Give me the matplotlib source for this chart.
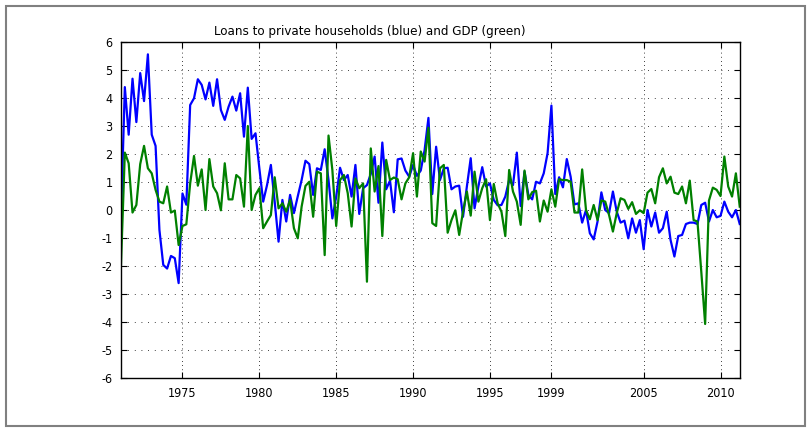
import matplotlib
matplotlib.use("Agg")
import matplotlib.pyplot as plt
from matplotlib import font_manager
from matplotlib.patches import Rectangle
import numpy as np

# quarterly series, 1971Q1 .. 2011Q2
start_year = 1971.0
loans = [
    -0.3, 4.4, 2.7, 4.7, 3.15, 4.9, 3.9, 5.57, 2.7, 2.3,
    -0.7, -1.95, -2.08, -1.63, -1.71, -2.6, 0.6, 0.2, 3.76, 4.0,
    4.68, 4.48, 3.96, 4.56, 3.73, 4.68, 3.58, 3.23, 3.7, 4.06,
    3.56, 4.18, 2.63, 4.38, 2.55, 2.75, 1.5, 0.31, 0.9, 1.62,
    0.3, -1.12, 0.37, -0.4, 0.55, -0.1, 0.5, 1.08, 1.77, 1.65,
    0.55, 1.5, 1.44, 2.18, 1.08, -0.29, 0.49, 1.52, 1.08, 1.26,
    0.49, 1.62, -0.13, 0.79, 0.9, 1.3, 1.92, 0.27, 2.42, 0.75,
    1.06, -0.07, 1.82, 1.85, 1.42, 1.2, 1.62, 1.23, 1.42, 2.15,
    3.3, 0.58, 2.27, 1.08, 1.5, 1.52, 0.75, 0.85, 0.88, -0.23,
    0.85, 1.86, 0.07, 0.85, 1.54, 0.85, 0.96, 0.37, 0.18, 0.19,
    0.49, 1.08, 0.9, 2.06, 0.15, 1.38, 0.55, 0.39, 1.02, 0.96,
    1.32, 2.04, 3.74, 0.58, 1.18, 0.82, 1.83, 1.2, 0.21, 0.25,
    -0.44, 0.01, -0.82, -1.04, -0.4, 0.64, 0.01, -0.1, 0.67, -0.05,
    -0.44, -0.37, -1.0, -0.29, -0.8, -0.35, -1.39, 0.01, -0.58, -0.08,
    -0.8, -0.64, -0.05, -1.06, -1.65, -0.92, -0.88, -0.49, -0.44, -0.44,
    -0.49, 0.19, 0.27, -0.4, 0.01, -0.25, -0.2, 0.31, -0.05, -0.25,
    0.01, -0.49,
]
gdp = [
    -1.95, 2.06, 1.68, -0.08, 0.19, 1.65, 2.3, 1.5, 1.32, 0.73,
    0.31, 0.25, 0.85, -0.08, -0.01, -1.24, -0.56, -0.5, 0.96, 1.94,
    0.88, 1.46, 0.01, 1.83, 0.85, 0.61, 0.0, 1.68, 0.39, 0.39,
    1.26, 1.14, 0.13, 3.01, 0.01, 0.55, 0.79, -0.64, -0.4, -0.17,
    1.18, 0.07, 0.25, -0.05, 0.37, -0.64, -1.0, 0.13, 0.87, 1.02,
    -0.23, 1.38, 1.32, -1.6, 2.67, 1.44, -0.56, 1.08, 1.26, 0.61,
    -0.58, 1.14, 0.79, 0.96, -2.55, 2.21, 0.67, 1.58, -0.92, 1.8,
    1.08, 1.17, 1.11, 0.39, 0.96, 1.18, 2.04, 0.49, 2.1, 1.74,
    2.95, -0.46, -0.56, 1.5, 1.62, -0.8, -0.35, 0.0, -0.88, -0.05,
    0.67, -0.19, 1.38, 0.31, 0.79, 1.11, -0.35, 0.94, 0.25, -0.05,
    -0.92, 1.44, 0.67, 0.31, -0.52, 1.42, 0.39, 0.65, 0.7, -0.4,
    0.35, -0.05, 0.75, 0.13, 1.11, 1.08, 1.08, 1.02, -0.08, -0.08,
    1.46, 0.01, -0.32, 0.19, -0.35, 0.35, 0.31, -0.17, -0.76, -0.1,
    0.43, 0.37, 0.05, 0.29, -0.13, 0.0, -0.1, 0.63, 0.76, 0.25,
    1.18, 1.5, 0.96, 1.2, 0.63, 0.58, 0.85, 0.25, 1.06, -0.35,
    -0.4, -2.2, -4.06, 0.35, 0.81, 0.73, 0.51, 1.92, 0.85, 0.49,
    1.32, 0.13,
]
xtick_years = [1975, 1980, 1985, 1990, 1995, 1999, 2005, 2010]
yticks = list(range(-6, 7))

t = start_year + 0.25 * np.arange(len(loans))

# look for a narrow face, like the one in the original
narrow = None
for f in font_manager.fontManager.ttflist:
    if 'Narrow' in f.name or (f.stretch in ('condensed', 'semi-condensed') and 'Sans' in f.name):
        narrow = f
        break
if narrow is not None:
    font_manager.fontManager.addfont(narrow.fname)
    plt.rcParams['font.family'] = [narrow.name, 'DejaVu Sans']
    plt.rcParams['font.stretch'] = narrow.stretch
else:
    plt.rcParams['font.family'] = ['Liberation Sans', 'DejaVu Sans']
plt.rcParams['axes.unicode_minus'] = False

fig = plt.figure(figsize=(8.12, 4.32), dpi=100)
fig.patches.append(Rectangle((6 / 812, 6 / 432), 799 / 812, 420 / 432, transform=fig.transFigure,
                             fill=False, edgecolor='#808080', linewidth=1.5))

ax = fig.add_axes([0.149, 0.1243, 0.762, 0.7778])
ax.plot(t, loans, color='#0000ff', linewidth=1.6)
ax.plot(t, gdp, color='#008000', linewidth=1.6)

ax.set_xlim(start_year, t[-1])
ax.set_ylim(-6, 6)
ax.set_xticks(xtick_years)
ax.set_yticks(yticks)
ax.tick_params(direction='in', top=True, right=True, length=4, width=0.8, labelsize=9, pad=6)
ax.xaxis.grid(True, color='black', linestyle=(0, (1, 4)), linewidth=0.6)
ax.yaxis.grid(True, color='black', linestyle=(0, (1, 7)), linewidth=0.6)
for s in ax.spines.values():
    s.set_linewidth(1.0)

fig.text(370 / 812, 1 - 32 / 432, "Loans to private households (blue) and GDP (green)",
         ha='center', va='center', fontsize=9.5)

fig.savefig("out.png", dpi=100)
